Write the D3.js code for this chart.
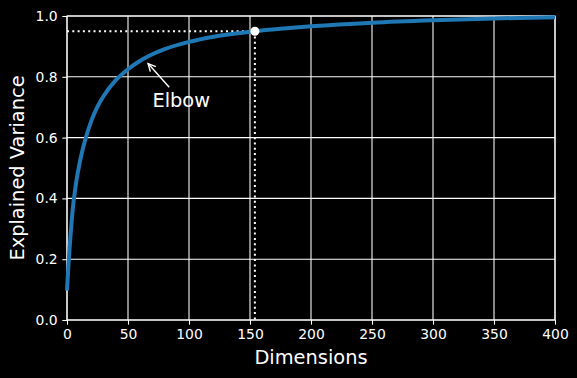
<!DOCTYPE html>
<html><head><meta charset="utf-8">
<script src="https://cdn.jsdelivr.net/npm/d3@7"></script>
<style>
html,body{margin:0;padding:0;background:#000;}
svg{display:block;}
text{font-family:"DejaVu Sans",sans-serif;fill:#fff;}
</style></head>
<body><svg id="chart" width="577" height="378"></svg>
<script>
// Data (cumulative explained variance vs. dimensions)
const dims = [0,1,2,3,4,5,6,8,10,12,15,20,25,30,40,50,60,70,80,100,120,154,175,200,250,300,350,400];
const variance = [0.097,0.168,0.230,0.284,0.333,0.376,0.409,0.465,0.509,0.547,0.594,0.656,0.702,0.737,0.789,0.825,0.853,0.874,0.891,0.915,0.932,0.950,0.958,0.966,0.978,0.986,0.992,0.996];
const xTicks = [0,50,100,150,200,250,300,350,400];
const yTicks = [0,0.2,0.4,0.6,0.8,1.0];
const elbowPoint = [154, 0.95];
const annotTarget = [65, 0.85];
const annotText = [70, 0.7];
const annotLabel = "Elbow";
const xLabel = "Dimensions";
const yLabel = "Explained Variance";

const svg = d3.select("#chart");
const W = 577, H = 378;
const m = {left:67, right:555, top:16, bottom:320};
svg.append("rect").attr("width",W).attr("height",H).attr("fill","#000");

const x = d3.scaleLinear().domain([0,400]).range([m.left,m.right]);
const y = d3.scaleLinear().domain([0,1]).range([m.bottom,m.top]);

// grid
const g = svg.append("g");
g.selectAll(".vg").data(xTicks).join("line")
  .attr("x1",d=>x(d)).attr("x2",d=>x(d)).attr("y1",m.top).attr("y2",m.bottom)
  .attr("stroke","#fff").attr("stroke-width",1.07);
g.selectAll(".hg").data(yTicks).join("line")
  .attr("y1",d=>y(d)).attr("y2",d=>y(d)).attr("x1",m.left).attr("x2",m.right)
  .attr("stroke","#fff").attr("stroke-width",1.07);

// axes
const xAxis = d3.axisBottom(x).tickValues(xTicks).tickSize(4.67).tickPadding(4.67).tickFormat(d3.format("d"));
const yAxis = d3.axisLeft(y).tickValues(yTicks).tickSize(4.67).tickPadding(4.67).tickFormat(d3.format(".1f"));
const gx = svg.append("g").attr("transform",`translate(0,${m.bottom})`).call(xAxis);
const gy = svg.append("g").attr("transform",`translate(${m.left},0)`).call(yAxis);
[gx,gy].forEach(a=>{
  a.select(".domain").remove();
  a.selectAll(".tick line").attr("stroke","#fff").attr("stroke-width",1.07);
  a.selectAll(".tick text").attr("fill","#fff").style("font-size","13.9px").style("font-family","DejaVu Sans");
});
// spines
svg.append("rect").attr("x",m.left).attr("y",m.top).attr("width",m.right-m.left).attr("height",m.bottom-m.top)
  .attr("fill","none").attr("stroke","#fff").attr("stroke-width",1.07);

// dotted guide lines
svg.append("line").attr("x1",x(0)).attr("x2",x(elbowPoint[0])).attr("y1",y(elbowPoint[1])).attr("y2",y(elbowPoint[1]))
  .attr("stroke","#fff").attr("stroke-width",2).attr("stroke-dasharray","2,3.3");
svg.append("line").attr("x1",x(elbowPoint[0])).attr("x2",x(elbowPoint[0])).attr("y1",y(elbowPoint[1])).attr("y2",y(0))
  .attr("stroke","#fff").attr("stroke-width",2).attr("stroke-dasharray","2,3.3");

// curve
const line = d3.line().x((d,i)=>x(dims[i])).y(d=>y(d)).curve(d3.curveMonotoneX);
svg.append("path").attr("d",line(variance)).attr("fill","none")
  .attr("stroke","#1f77b4").attr("stroke-width",4).attr("stroke-linecap","butt").attr("stroke-linejoin","round");

// point
svg.append("circle").attr("cx",x(elbowPoint[0])).attr("cy",y(elbowPoint[1])).attr("r",4.5).attr("fill","#fff");

// annotation
const t = svg.append("text").attr("x",x(annotText[0])).attr("y",y(annotText[1]))
  .style("font-size","19.4px").text(annotLabel);
const bb = t.node().getBBox();
const cx = bb.x+bb.width/2, cy = bb.y+bb.height/2;
const tx = x(annotTarget[0]), ty = y(annotTarget[1]);
let dx = tx-cx, dy = ty-cy;
let s = 1;
if (dx!==0) s = Math.min(s, Math.abs((bb.width/2)/dx));
if (dy!==0) s = Math.min(s, Math.abs((bb.height/2)/dy));
const len = Math.hypot(dx,dy);
const ux = dx/len, uy = dy/len;
const sx = cx+dx*s + ux*2.67, sy = cy+dy*s + uy*2.67;
const ex = tx - ux*2.67, ey = ty - uy*2.67;
svg.append("line").attr("x1",sx).attr("y1",sy).attr("x2",ex).attr("y2",ey)
  .attr("stroke","#fff").attr("stroke-width",1.4);
const hl = 7.5, hw = 3.7;
const bx = ex-ux*hl, by = ey-uy*hl;
svg.append("path")
  .attr("d",`M${bx - uy*hw},${by + ux*hw}L${ex},${ey}L${bx + uy*hw},${by - ux*hw}`)
  .attr("fill","none").attr("stroke","#fff").attr("stroke-width",1.4).attr("stroke-linejoin","miter");

// axis labels
svg.append("text").attr("x",(m.left+m.right)/2).attr("y",364).attr("text-anchor","middle")
  .style("font-size","19.4px").text(xLabel);
svg.append("text").attr("transform",`translate(24,${(m.top+m.bottom)/2}) rotate(-90)`).attr("text-anchor","middle")
  .style("font-size","19.4px").text(yLabel);
</script></body></html>
